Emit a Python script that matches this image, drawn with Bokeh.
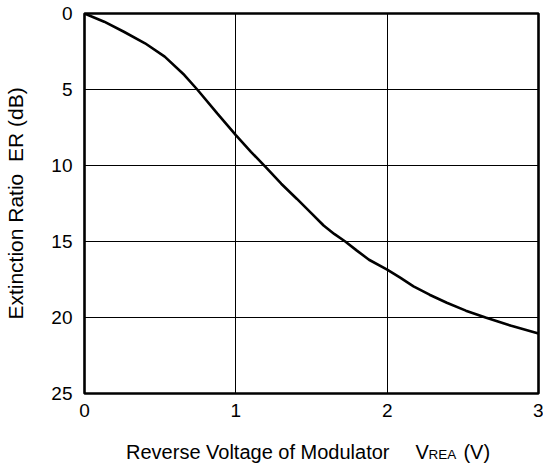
from bokeh.plotting import figure
from bokeh.models import Range1d, FixedTicker, LinearAxis
from bokeh.embed import file_html
from bokeh.resources import INLINE

# Data
voltage = [0.0, 0.13, 0.26, 0.40, 0.53, 0.66, 0.745, 0.877, 1.0, 1.1, 1.207, 1.3,
           1.404, 1.5, 1.58, 1.65, 1.723, 1.8, 1.88, 2.0, 2.086, 2.174, 2.28, 2.394,
           2.52, 2.65, 2.82, 3.0]
extinction = [0.0, 0.54, 1.2, 1.96, 2.84, 4.05, 5.0, 6.57, 8.0, 9.1, 10.2, 11.2,
              12.2, 13.15, 13.95, 14.5, 15.0, 15.6, 16.2, 16.85, 17.38, 17.95, 18.5, 19.03,
              19.55, 20.0, 20.55, 21.05]
x_ticks = [0, 1, 2, 3]
y_ticks = [0, 5, 10, 15, 20, 25]

x_title_main = ["Reverse Voltage of Modulator", "V", "(V)"]
x_title_sub = ["REA"]
# horizontal centres of the title pieces, in axis units
x_title_main_pos = [1.145, 2.231, 2.592]
x_title_sub_pos = [2.365]

FONT = "Liberation Sans"

p = figure(width=543, height=468, output_backend="svg", toolbar_location=None,
           x_range=Range1d(0, 3), y_range=Range1d(25, 0),
           min_border_left=84, min_border_right=5, min_border_top=13, min_border_bottom=75)
p.background_fill_color = "white"
p.border_fill_color = "white"
p.outline_line_color = "black"
p.outline_line_width = 2.6


def style_axis(ax, size, standoff):
    ax.axis_line_color = None
    ax.major_tick_line_color = None
    ax.minor_tick_line_color = None
    ax.major_label_text_font = FONT
    ax.major_label_text_font_size = size
    ax.major_label_text_color = "black"
    ax.major_label_standoff = standoff


style_axis(p.xaxis[0], "19px", 4)
style_axis(p.yaxis[0], "19px", 6)
p.xaxis.ticker = FixedTicker(ticks=x_ticks)
p.yaxis.ticker = FixedTicker(ticks=y_ticks)

p.yaxis.axis_label = "Extinction Ratio\u00a0\u00a0ER (dB)"
p.yaxis.axis_label_text_font = FONT
p.yaxis.axis_label_text_font_size = "21px"
p.yaxis.axis_label_text_font_style = "normal"
p.yaxis.axis_label_text_color = "black"
p.yaxis.axis_label_standoff = 21

# x-axis title: subscript piece (smaller font) then the main pieces on the same line
sub_axis = LinearAxis(ticker=FixedTicker(ticks=x_title_sub_pos),
                      major_label_overrides=dict(zip(x_title_sub_pos, x_title_sub)))
style_axis(sub_axis, "13.5px", 21)
p.add_layout(sub_axis, "below")

main_axis = LinearAxis(ticker=FixedTicker(ticks=x_title_main_pos),
                       major_label_overrides=dict(zip(x_title_main_pos, x_title_main)))
style_axis(main_axis, "20px", -30)
p.add_layout(main_axis, "below")

p.xgrid.ticker = FixedTicker(ticks=x_ticks)
p.ygrid.ticker = FixedTicker(ticks=y_ticks)
p.grid.grid_line_color = "black"
p.grid.grid_line_width = 1
p.grid.grid_line_alpha = 1.0

p.line(voltage, extinction, line_color="black", line_width=2.6)

open("out.html", "w").write(file_html(p, INLINE))
